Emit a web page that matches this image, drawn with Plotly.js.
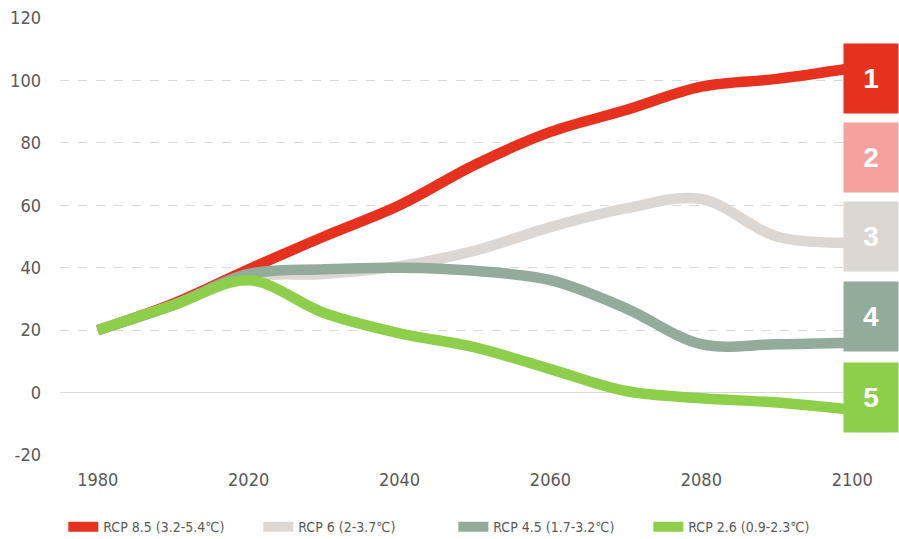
<!DOCTYPE html>
<html>
<head>
<meta charset="utf-8">
<script src="https://cdn.plot.ly/plotly-3.0.1.min.js"></script>
<style>html,body{margin:0;padding:0;background:#fff;}#chart{width:899px;height:539px;}</style>
</head>
<body>
<div id="chart"></div>
<script>
const years = ['1980','2000','2020','2030','2040','2050','2060','2070','2080','2090','2100'];
const tickYears = ['1980','2020','2040','2060','2080','2100'];
const yTickVals = [-20, 0, 20, 40, 60, 80, 100, 120];
const yTickText = ['-20', '0', '20', '40', '60', '80', '100', '120'];
const rcp85 = [20, 28.5, 39.5, 50, 60, 73, 83.5, 90.5, 98, 100.5, 104];
const rcp6  = [20, 28, 37, 38, 40.5, 45.5, 53, 59, 62, 50, 48];
const rcp45 = [20, 28, 38, 39.5, 40, 39, 36, 27, 15.5, 15.5, 16];
const rcp26 = [20, 28, 36, 25.5, 19, 14.5, 7.5, 0.5, -1.8, -3.2, -5.5];
const seriesNames = ['RCP 8.5 (3.2-5.4℃)', 'RCP 6 (2-3.7℃)', 'RCP 4.5 (1.7-3.2℃)', 'RCP 2.6 (0.9-2.3℃)'];
const seriesColors = ['#e5311d', '#dcd7d2', '#93ab9b', '#8dcf4b'];
const boxLabels = ['1', '2', '3', '4', '5'];
const boxColors = ['#e5311d', '#f5a19e', '#dcd7d2', '#93ab9b', '#8dcf4b'];

const FONT = '"Liberation Sans Narrow", "DejaVu Sans Condensed", "Liberation Sans", sans-serif';
const seriesValues = [rcp85, rcp6, rcp45, rcp26];
const traces = seriesValues.map((vals, i) => ({
  type: 'scatter', mode: 'lines', x: years, y: vals, name: seriesNames[i],
  line: {color: seriesColors[i], width: 10.5, shape: 'spline', smoothing: 1},
  hoverinfo: 'skip'
}));

const plotTop = 18.3, plotBottom = 455, plotH = plotBottom - plotTop;
const boxCentersPx = [79, 158, 237, 317, 397.5];
const annotations = boxLabels.map((t, i) => ({
  xref: 'paper', yref: 'paper',
  x: (899 - 60) / 830, xanchor: 'right',
  y: (plotBottom - boxCentersPx[i]) / plotH, yanchor: 'middle',
  text: '<b>' + t + '</b>', showarrow: false,
  width: 54, height: 69, bgcolor: boxColors[i], borderpad: 0,
  font: {family: '"Liberation Sans", sans-serif', size: 28, color: '#ffffff'},
  align: 'center', valign: 'middle'
}));

const layout = {
  width: 899, height: 539,
  margin: {l: 60, r: 9, t: 18.3, b: 84, autoexpand: false},
  paper_bgcolor: '#ffffff', plot_bgcolor: '#ffffff',
  font: {family: FONT, color: '#595959'},
  showlegend: true,
  legend: {orientation: 'h', x: 0.004, xanchor: 'left', y: -0.165, yanchor: 'middle',
           entrywidth: 150, entrywidthmode: 'pixels',
           font: {family: FONT, size: 14, color: '#595959'}, traceorder: 'normal'},
  xaxis: {type: 'category', categoryorder: 'array', categoryarray: years,
          range: [-0.5, 10.5], tickmode: 'array', tickvals: tickYears, ticktext: tickYears,
          showgrid: false, zeroline: false, showline: false, ticks: '',
          ticklabelstandoff: 12, tickfont: {family: FONT, size: 18, color: '#595959'}},
  yaxis: {range: [-20, 120], tickmode: 'array', tickvals: yTickVals, ticktext: yTickText,
          showgrid: true, gridcolor: '#d9d9d9', griddash: 'dash', gridwidth: 1,
          zeroline: true, zerolinecolor: '#d9d9d9', zerolinewidth: 1.5,
          showline: false, ticks: '', ticklabelstandoff: 18,
          tickfont: {family: FONT, size: 18, color: '#595959'}},
  annotations: annotations
};

Plotly.newPlot('chart', traces, layout, {staticPlot: true, displayModeBar: false});
</script>
</body>
</html>
